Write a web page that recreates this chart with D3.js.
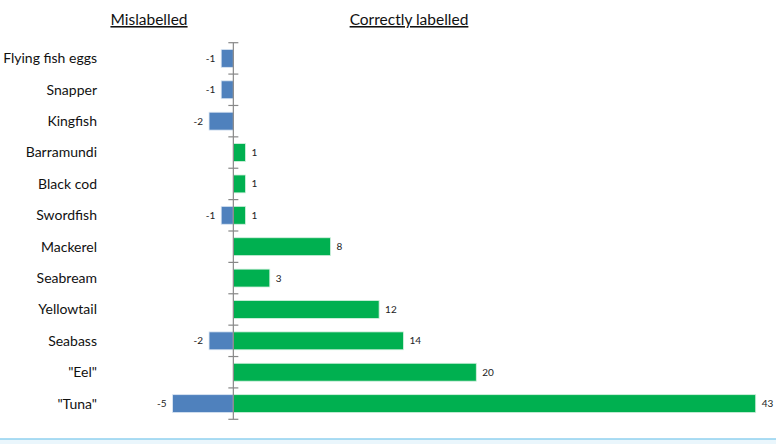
<!DOCTYPE html>
<html>
<head>
<meta charset="utf-8">
<script src="https://cdn.jsdelivr.net/npm/d3@7"></script>
<style>
  body { margin: 0; background: #fff; }
  svg { display: block; font-family: Lato, "Open Sans", sans-serif; }
</style>
</head>
<body>
<script>
// chart data
var species = ["Flying fish eggs", "Snapper", "Kingfish", "Barramundi", "Black cod", "Swordfish",
               "Mackerel", "Seabream", "Yellowtail", "Seabass", "\"Eel\"", "\"Tuna\""];
var mislabelled = [-1, -1, -2, null, null, -1, null, null, null, -2, null, -5];
var correct = [null, null, null, 1, 1, 1, 8, 3, 12, 14, 20, 43];

var width = 776, height = 444;

var svg = d3.select("body").append("svg")
  .attr("width", width)
  .attr("height", height);

// scales
var x = d3.scaleLinear().domain([-5, 43]).range([172.6, 755.7]);
var y = d3.scaleBand().domain(species).range([42.7, 419.3]).paddingInner(0.43).paddingOuter(0.215);
var yEdge = d3.scaleLinear().domain([0, species.length]).range([42.7, 419.3]);

// headers
svg.append("text")
  .attr("x", 149).attr("y", 25)
  .attr("text-anchor", "middle")
  .attr("font-size", 15.5).attr("fill", "#111")
  .attr("text-decoration", "underline")
  .text("Mislabelled");
svg.append("text")
  .attr("x", 409).attr("y", 25)
  .attr("text-anchor", "middle")
  .attr("font-size", 15.5).attr("fill", "#111")
  .attr("text-decoration", "underline")
  .text("Correctly labelled");

// category labels
svg.selectAll(".cat")
  .data(species)
  .enter().append("text")
  .attr("class", "cat")
  .attr("x", 97)
  .attr("y", d => y(d) + y.bandwidth() / 2)
  .attr("dy", "0.35em")
  .attr("text-anchor", "end")
  .attr("font-size", 14).attr("fill", "#111")
  .text(d => d);

// bars
var rows = species.map((s, i) => ({ name: s, neg: mislabelled[i], pos: correct[i] }));

svg.selectAll(".neg")
  .data(rows.filter(d => d.neg != null))
  .enter().append("rect")
  .attr("class", "neg")
  .attr("x", d => x(d.neg))
  .attr("y", d => y(d.name))
  .attr("width", d => x(0) - x(d.neg))
  .attr("height", y.bandwidth())
  .attr("fill", "#4f81bd")
  .attr("stroke", "#dbe6f3").attr("stroke-width", 0.8);

svg.selectAll(".pos")
  .data(rows.filter(d => d.pos != null))
  .enter().append("rect")
  .attr("class", "pos")
  .attr("x", x(0))
  .attr("y", d => y(d.name))
  .attr("width", d => x(d.pos) - x(0))
  .attr("height", y.bandwidth())
  .attr("fill", "#00b050")
  .attr("stroke", "#d4f0df").attr("stroke-width", 0.8);

// value labels
svg.selectAll(".negLabel")
  .data(rows.filter(d => d.neg != null))
  .enter().append("text")
  .attr("class", "negLabel")
  .attr("x", d => x(d.neg) - 6)
  .attr("y", d => y(d.name) + y.bandwidth() / 2)
  .attr("dy", "0.35em")
  .attr("text-anchor", "end")
  .attr("font-size", 10).attr("fill", "#222")
  .text(d => d.neg);

svg.selectAll(".posLabel")
  .data(rows.filter(d => d.pos != null))
  .enter().append("text")
  .attr("class", "posLabel")
  .attr("x", d => x(d.pos) + 6)
  .attr("y", d => y(d.name) + y.bandwidth() / 2)
  .attr("dy", "0.35em")
  .attr("font-size", 10).attr("fill", "#222")
  .text(d => d.pos);

// vertical axis with ticks at band edges
var axis = svg.append("g").attr("stroke", "#888").attr("stroke-width", 1.2);
axis.append("line")
  .attr("x1", x(0)).attr("x2", x(0))
  .attr("y1", yEdge(0)).attr("y2", yEdge(species.length));
axis.selectAll(".tick")
  .data(d3.range(species.length + 1))
  .enter().append("line")
  .attr("x1", x(0) - 5).attr("x2", x(0) + 5)
  .attr("y1", d => yEdge(d)).attr("y2", d => yEdge(d));

// bottom rule
svg.append("rect")
  .attr("x", 0).attr("y", 439).attr("width", width).attr("height", 5)
  .attr("fill", "#eaf6fc");
svg.append("line")
  .attr("x1", 0).attr("x2", width).attr("y1", 439).attr("y2", 439)
  .attr("stroke", "#8fd0ef").attr("stroke-width", 1.5);
</script>
</body>
</html>
